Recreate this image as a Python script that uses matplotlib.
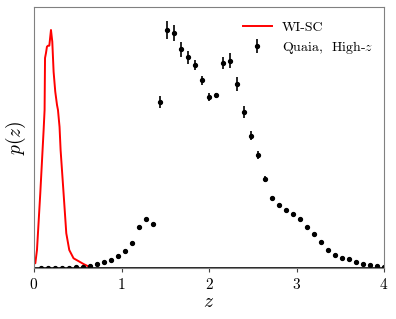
import numpy as np
import matplotlib
matplotlib.use("Agg")
import matplotlib.pyplot as plt

plt.rcParams['font.family'] = 'serif'
plt.rcParams['font.serif'] = ['cmr10']
plt.rcParams['mathtext.fontset'] = 'cm'
plt.rcParams['axes.formatter.use_mathtext'] = True

# WI-SC redshift distribution (red curve)
wisc_z = [0.003, 0.015, 0.034, 0.072, 0.110, 0.121, 0.126, 0.137, 0.148, 0.160,
          0.175, 0.194, 0.209, 0.224, 0.243, 0.263, 0.274, 0.292, 0.304, 0.338,
          0.369, 0.403, 0.452, 0.566, 0.612]
wisc_pz = [0.063, 0.047, 0.18, 0.75, 1.38, 1.58, 2.10, 2.15, 2.213, 2.223,
           2.223, 2.38, 2.263, 1.963, 1.763, 1.63, 1.58, 1.41, 1.18, 0.747,
           0.347, 0.18, 0.097, 0.04, 0.02]

# Quaia high-z binned distribution
quaia_z = [0.08 * k for k in range(1, 51)]
quaia_pz = [0.003, 0.003, 0.003, 0.003, 0.005, 0.008, 0.012, 0.02, 0.037, 0.057,
            0.083, 0.117, 0.167, 0.253, 0.413, 0.487, 0.437, 1.657, 2.38, 2.353,
            2.19, 2.107, 2.03, 1.877, 1.713, 1.73, 2.05, 2.073, 1.843, 1.563,
            1.323, 1.13, 0.89, 0.703, 0.633, 0.577, 0.54, 0.487, 0.41, 0.343,
            0.263, 0.183, 0.127, 0.097, 0.087, 0.063, 0.043, 0.03, 0.02, 0.013]
quaia_err = [0.002, 0.002, 0.002, 0.002, 0.002, 0.003, 0.003, 0.004, 0.005, 0.006,
             0.007, 0.008, 0.009, 0.01, 0.012, 0.014, 0.014, 0.06, 0.09, 0.08,
             0.075, 0.065, 0.05, 0.045, 0.04, 0.025, 0.063, 0.075, 0.07, 0.06,
             0.045, 0.04, 0.03, 0.012, 0.01, 0.01, 0.01, 0.009, 0.008, 0.008,
             0.007, 0.006, 0.005, 0.005, 0.004, 0.004, 0.003, 0.003, 0.002, 0.002]

fig = plt.figure(figsize=(3.96, 3.19), dpi=100)
ax = fig.add_axes([34 / 396, 1 - 268 / 319, 350 / 396, 261.5 / 319])

ax.plot(wisc_z, wisc_pz, color='red', lw=1.4, label='WI-SC')
ax.errorbar(quaia_z, quaia_pz, yerr=quaia_err, fmt='o', color='k', ms=2.8,
            elinewidth=1.2, capsize=0, label=r'Quaia,  High-$z$')
ax.axhline(0, color='k', lw=1.2)

ax.set_xlim(0, 4)
ax.set_ylim(0, 2.615)
ax.set_xticks([0, 1, 2, 3, 4])
ax.set_yticks([])
for s in ax.spines.values():
    s.set_color('gray')
ax.tick_params(axis='x', labelsize=11, length=3, color='#444444', labelcolor='k')
ax.set_xlabel(r'$z$', fontsize=14, labelpad=1)
ax.set_ylabel(r'$p(z)$', fontsize=14)

ax.legend(loc='upper right', bbox_to_anchor=(1.0, 0.985), frameon=False,
          fontsize=10, handlelength=2.1, handletextpad=0.7, labelspacing=0.35,
          borderaxespad=0.4)

fig.savefig('out.png', dpi=100)
